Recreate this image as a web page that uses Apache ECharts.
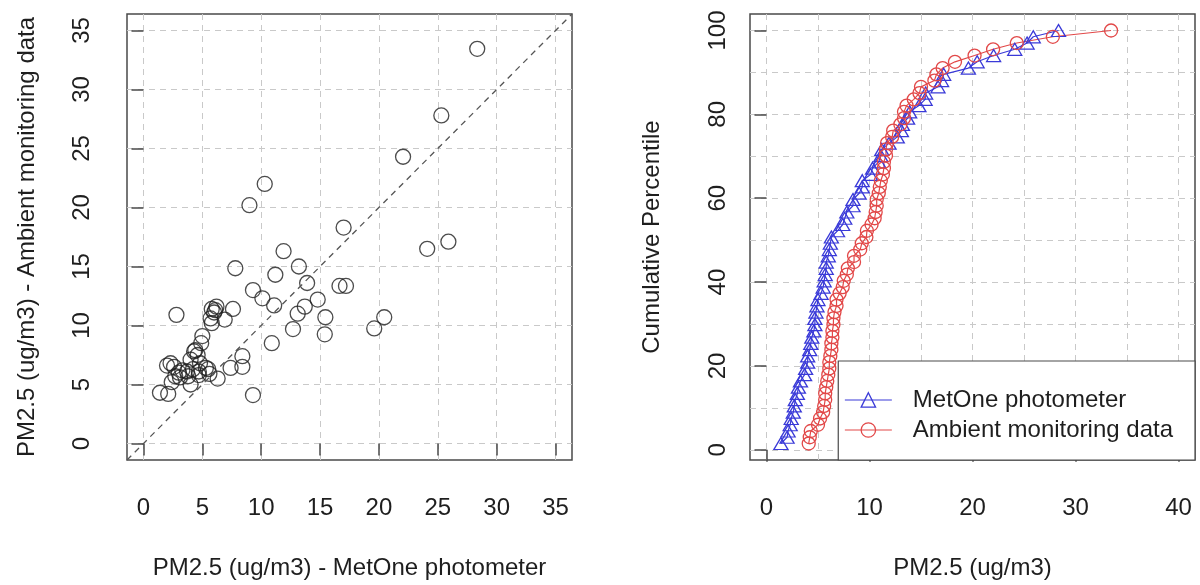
<!DOCTYPE html>
<html>
<head>
<meta charset="utf-8">
<script src="https://cdn.jsdelivr.net/npm/echarts@6/dist/echarts.min.js"></script>
<style>
html,body{margin:0;padding:0;background:#fff;}
#chart{width:1200px;height:585px;}
</style>
</head>
<body>
<div id="chart"></div>
<script>
const metOne = [1.4, 2.1, 2.0, 2.3, 2.6, 2.4, 2.7, 3.1, 3.3, 3.7, 3.8, 4.0, 4.0, 4.3, 4.4, 4.6, 4.7, 4.7, 4.8, 4.9, 5.0, 5.5, 6.3, 7.4, 8.4, 8.4, 9.3, 2.8, 5.8, 6.2, 6.0, 5.7, 5.8, 6.1, 6.9, 7.6, 28.35, 25.3, 22.05, 10.3, 9.0, 17.0, 24.1, 25.9, 11.9, 7.8, 13.2, 11.2, 13.9, 16.65, 17.2, 9.3, 10.1, 14.8, 11.1, 13.7, 13.1, 15.45, 20.45, 12.7, 15.4, 19.6, 10.9, 3.0, 5.3, 5.6, 4.2];
const ambient = [4.3, 4.2, 6.6, 6.8, 6.5, 5.2, 5.7, 5.6, 6.2, 6.1, 5.7, 7.1, 5.0, 7.8, 7.9, 7.5, 6.1, 5.8, 6.8, 8.5, 9.1, 6.3, 5.5, 6.4, 6.5, 7.4, 4.1, 10.9, 11.4, 11.6, 11.1, 10.6, 10.2, 11.3, 10.5, 11.4, 33.45, 27.8, 24.3, 22.0, 20.2, 18.3, 16.5, 17.1, 16.3, 14.85, 15.0, 14.3, 13.6, 13.35, 13.35, 13.0, 12.3, 12.2, 11.7, 11.6, 11.0, 10.7, 10.7, 9.7, 9.25, 9.75, 8.5, 6.0, 6.4, 5.9, 6.3];

const seriesNames = ['MetOne photometer', 'Ambient monitoring data'];
const leftTicks = [0, 5, 10, 15, 20, 25, 30, 35];
const rightXTicks = [0, 10, 20, 30, 40];
const rightXGrid = [0, 5, 10, 15, 20, 25, 30, 35, 40];
const rightYTicks = [0, 20, 40, 60, 80, 100];
const rightYGrid = [0, 10, 20, 30, 40, 50, 60, 70, 80, 90, 100];
const leftRange = [-1.4, 36.4];
const rightXRange = [-1.6, 41.6];
const rightYRange = [-2.44, 103.94];

// Empirical cumulative percentile of each series
function ecdf(vals) {
  const s = vals.slice().sort((a, b) => a - b);
  return s.map((v, i) => [v, (i + 1) / s.length * 100]);
}

const FONT = 'Liberation Sans, Arial, Helvetica, sans-serif';
const TXT = '#1e1e1e';
const BOX = '#4a4a4a';
const GRIDC = '#c9c9c9';
const BLUE = '#3a3ad8';
const RED = '#e24848';

function mainAxis(gridIndex, range, ticks, rotate, margin, name, nameGap) {
  return {
    type: 'value', gridIndex, min: range[0], max: range[1],
    axisLine: {show: false},
    axisTick: {show: true, length: 12, customValues: ticks, lineStyle: {color: BOX, width: 1.5}},
    axisLabel: {customValues: ticks, fontSize: 24, color: TXT, fontFamily: FONT, margin, rotate},
    splitLine: {show: false},
    name, nameLocation: 'middle', nameGap,
    nameTextStyle: {fontSize: 24, color: TXT, fontFamily: FONT}
  };
}
function gridAxis(gridIndex, range, vals) {
  return {
    type: 'value', gridIndex, min: range[0], max: range[1],
    axisLine: {show: false},
    axisTick: {show: false, customValues: vals},
    axisLabel: {show: false, customValues: vals},
    splitLine: {show: true, lineStyle: {color: GRIDC, width: 1, type: [6, 5]}}
  };
}

const chart = echarts.init(document.getElementById('chart'), null, {renderer: 'canvas'});
chart.setOption({
  animation: false,
  backgroundColor: '#fff',
  textStyle: {fontFamily: FONT},
  grid: [
    {left: 127, top: 14, width: 445, height: 446, show: true, borderColor: BOX, borderWidth: 1.5, backgroundColor: 'transparent'},
    {left: 750, top: 14, width: 445, height: 446, show: true, borderColor: BOX, borderWidth: 1.5, backgroundColor: 'transparent'}
  ],
  xAxis: [
    Object.assign(mainAxis(0, leftRange, leftTicks, 0, 36, 'PM2.5 (ug/m3) - MetOne photometer', 96),
      {splitLine: {show: true, lineStyle: {color: GRIDC, width: 1, type: [6, 5]}}}),
    mainAxis(1, rightXRange, rightXTicks, 0, 36, 'PM2.5 (ug/m3)', 96),
    gridAxis(1, rightXRange, rightXGrid)
  ],
  yAxis: [
    Object.assign(mainAxis(0, leftRange, leftTicks, 90, 33, 'PM2.5 (ug/m3) - Ambient monitoring data', 88),
      {splitLine: {show: true, lineStyle: {color: GRIDC, width: 1, type: [6, 5]}}}),
    mainAxis(1, rightYRange, rightYTicks, 90, 20, 'Cumulative Percentile', 86),
    gridAxis(1, rightYRange, rightYGrid)
  ],
  legend: {
    orient: 'vertical', right: 5, bottom: 125,
    itemWidth: 47, itemHeight: 18, itemGap: 6,
    padding: [27, 22, 18, 6],
    borderColor: BOX, borderWidth: 1.2, backgroundColor: '#fff',
    textStyle: {fontSize: 24, color: TXT, fontFamily: FONT, padding: [0, 0, 0, 16]},
    data: [
      {name: seriesNames[0], itemStyle: {color: 'rgba(0,0,0,0)', borderColor: BLUE, borderWidth: 1.3}, lineStyle: {color: BLUE, width: 1.2}},
      {name: seriesNames[1], itemStyle: {color: 'rgba(0,0,0,0)', borderColor: RED, borderWidth: 1.3}, lineStyle: {color: RED, width: 1.2}}
    ]
  },
  series: [
    {
      type: 'line', xAxisIndex: 0, yAxisIndex: 0, silent: true,
      data: [[leftRange[0], leftRange[0]], [leftRange[1], leftRange[1]]],
      symbol: 'none', lineStyle: {color: '#555', width: 1.3, type: [6, 5]}
    },
    {
      type: 'scatter', xAxisIndex: 0, yAxisIndex: 0,
      data: metOne.map((v, i) => [v, ambient[i]]),
      symbol: 'circle', symbolSize: 15,
      itemStyle: {color: 'rgba(0,0,0,0)', borderColor: '#1f1f1f', borderWidth: 1.3}
    },
    {
      name: seriesNames[0], type: 'line', xAxisIndex: 1, yAxisIndex: 1,
      data: ecdf(metOne), showAllSymbol: true,
      symbol: 'triangle', symbolSize: [14, 12],
      itemStyle: {color: 'rgba(0,0,0,0)', borderColor: BLUE, borderWidth: 1.3},
      lineStyle: {color: BLUE, width: 1.2}
    },
    {
      name: seriesNames[1], type: 'line', xAxisIndex: 1, yAxisIndex: 1,
      data: ecdf(ambient), showAllSymbol: true,
      symbol: 'circle', symbolSize: 13,
      itemStyle: {color: 'rgba(0,0,0,0)', borderColor: RED, borderWidth: 1.3},
      lineStyle: {color: RED, width: 1.2}
    }
  ]
});
</script>
</body>
</html>
